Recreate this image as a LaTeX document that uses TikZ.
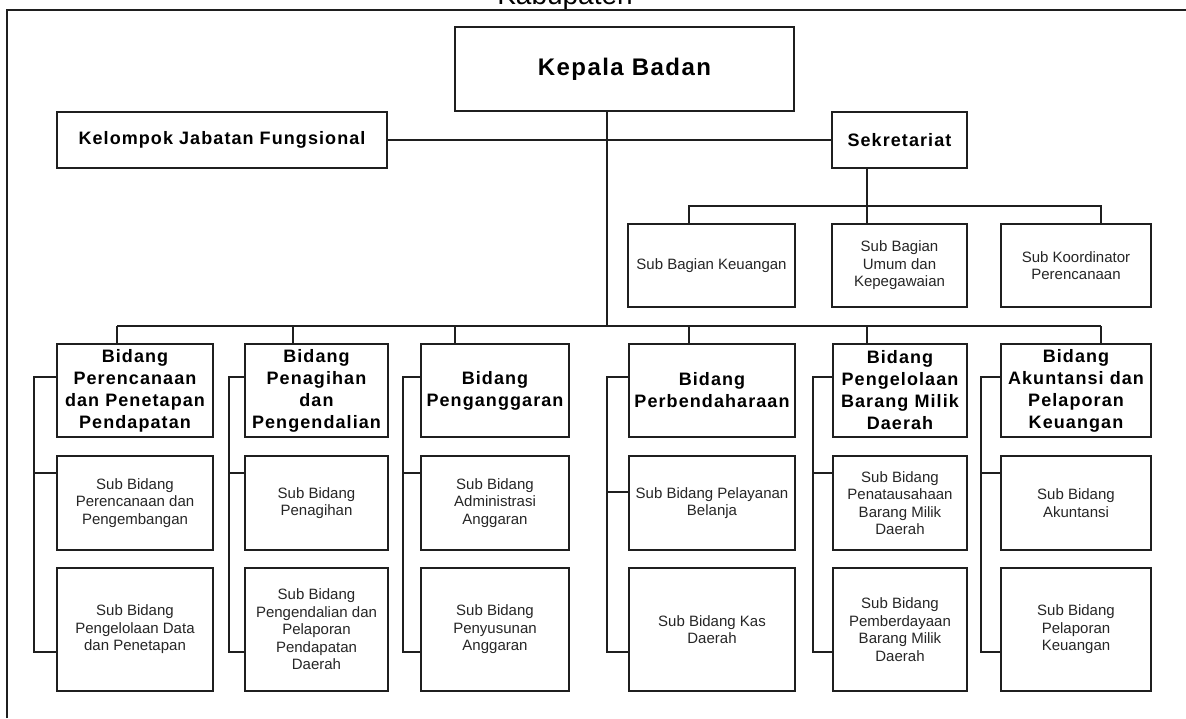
\documentclass[tikz,border=0pt]{standalone}
\usepackage{fontspec}
\setmainfont{Liberation Sans}
\newfontfamily\titlefont[LetterSpace=6]{Liberation Sans}
\begin{document}
\begin{tikzpicture}[x=1pt,y=-1pt,
  line width=1.5pt,
  lc/.style={draw=black!88},
  box/.style={draw=black!88, line width=1.6pt, fill=white, inner sep=0pt, align=center},
  head/.style={box, font=\titlefont\bfseries\fontsize{18}{22}\selectfont},
  sub/.style={box, text=black!85, font=\fontsize{15}{17.5}\selectfont},
]
\useasboundingbox (0,0) rectangle (1186,718);
% frame and cut title
\node[anchor=base, font=\fontsize{28}{30}\selectfont] (kab) at (565,4) {Kabupaten};
\draw[lc] (7,718) -- (7,10) -- (1186,10);

% top level
\node[box, minimum width=339pt, minimum height=84pt, font=\titlefont\bfseries\fontsize{24}{28}\selectfont] (kepala) at (624.5,69) {Kepala Badan};
\node[head, minimum width=330pt, minimum height=56pt] (kel) at (222,140) {Kelompok Jabatan Fungsional};
\node[head, minimum width=135pt, minimum height=56pt] (sek) at (899.5,140) {Sekretariat};

% sekretariat subs
\node[sub, minimum width=167pt, minimum height=83pt] (keu) at (711.5,265.5) {Sub Bagian Keuangan};
\node[sub, minimum width=135pt, minimum height=83pt] (umum) at (899.5,265.5) {Sub Bagian\\Umum dan\\Kepegawaian};
\node[sub, minimum width=150pt, minimum height=83pt] (koord) at (1076,265.5) {Sub Koordinator\\Perencanaan};

% bidang
\node[head, minimum width=156pt, minimum height=93pt] (b1) at (135,390.5) {Bidang\\Perencanaan\\dan Penetapan\\Pendapatan};
\node[head, minimum width=143pt, minimum height=93pt] (b2) at (316.5,390.5) {Bidang\\Penagihan\\dan\\Pengendalian};
\node[head, minimum width=148pt, minimum height=93pt] (b3) at (495,390.5) {Bidang\\Penganggaran};
\node[head, minimum width=166pt, minimum height=93pt] (b4) at (712,390.5) {Bidang\\Perbendaharaan};
\node[head, minimum width=134pt, minimum height=93pt] (b5) at (900,390.5) {Bidang\\Pengelolaan\\Barang Milik\\Daerah};
\node[head, minimum width=150pt, minimum height=93pt] (b6) at (1076,390.5) {Bidang\\Akuntansi dan\\Pelaporan\\Keuangan};

% sub bidang
\node[sub, minimum width=156pt, minimum height=94pt] (s1a) at (135,503) {Sub Bidang\\Perencanaan dan\\Pengembangan};
\node[sub, minimum width=156pt, minimum height=123pt] (s1b) at (135,629.5) {Sub Bidang\\Pengelolaan Data\\dan Penetapan};
\node[sub, minimum width=143pt, minimum height=94pt] (s2a) at (316.5,503) {Sub Bidang\\Penagihan};
\node[sub, minimum width=143pt, minimum height=123pt] (s2b) at (316.5,629.5) {Sub Bidang\\Pengendalian dan\\Pelaporan\\Pendapatan\\Daerah};
\node[sub, minimum width=148pt, minimum height=94pt] (s3a) at (495,503) {Sub Bidang\\Administrasi\\Anggaran};
\node[sub, minimum width=148pt, minimum height=123pt] (s3b) at (495,629.5) {Sub Bidang\\Penyusunan\\Anggaran};
\node[sub, minimum width=166pt, minimum height=94pt] (s4a) at (712,503) {Sub Bidang Pelayanan\\Belanja};
\node[sub, minimum width=166pt, minimum height=123pt] (s4b) at (712,629.5) {Sub Bidang Kas\\Daerah};
\node[sub, minimum width=134pt, minimum height=94pt] (s5a) at (900,503) {Sub Bidang\\Penatausahaan\\Barang Milik\\Daerah};
\node[sub, minimum width=134pt, minimum height=123pt] (s5b) at (900,629.5) {Sub Bidang\\Pemberdayaan\\Barang Milik\\Daerah};
\node[sub, minimum width=150pt, minimum height=94pt] (s6a) at (1076,503) {Sub Bidang\\Akuntansi};
\node[sub, minimum width=150pt, minimum height=123pt] (s6b) at (1076,629.5) {Sub Bidang\\Pelaporan\\Keuangan};

% connectors: top
\coordinate (bus) at (607,326);
\draw[lc] (kepala.south -| bus) -- (bus);
\draw[lc] (kel.east) -- (sek.west);
\coordinate (sbus) at (867,206);
\draw[lc] (sek.south -| sbus) -- (sbus);
\coordinate (d1) at (689,206);
\coordinate (d3) at (1101,206);
\draw[lc] (keu.north -| d1) -- (d1) -- (d3) -- (koord.north -| d3);
\draw[lc] (sbus) -- (umum.north -| sbus);

% bottom bus
\coordinate (e1) at (117,326);
\coordinate (e2) at (293,326);
\coordinate (e3) at (455,326);
\coordinate (e4) at (689,326);
\coordinate (e5) at (867,326);
\coordinate (e6) at (1101,326);
\draw[lc] (e1) -- (e6);
\foreach \e/\b in {e1/b1,e2/b2,e3/b3,e4/b4,e5/b5,e6/b6}
  \draw[lc] (\e) -- (\b.north -| \e);

% brackets
\foreach \b/\sa/\sb/\xb/\ya in {b1/s1a/s1b/34/473, b2/s2a/s2b/229/473, b3/s3a/s3b/403/473, b4/s4a/s4b/607/492, b5/s5a/s5b/813/473, b6/s6a/s6b/981/473}{
  \draw[lc] (\b.west |- 0,377) -- (\xb,377) -- (\xb,652) -- (\sb.west |- 0,652);
  \draw[lc] (\xb,\ya) -- (\sa.west |- 0,\ya);
}
\end{tikzpicture}
\end{document}
